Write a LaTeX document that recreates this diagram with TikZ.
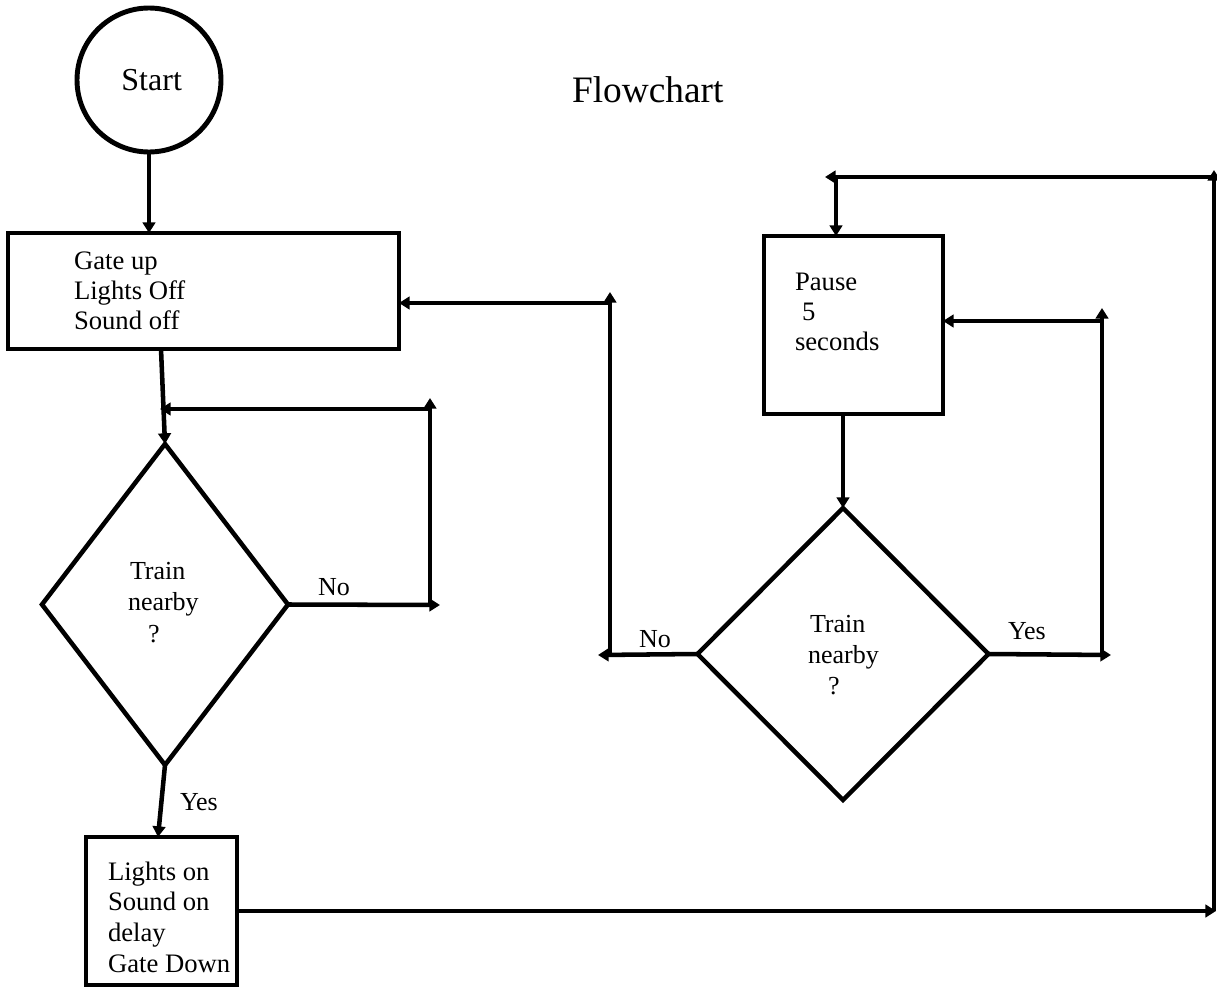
\documentclass[tikz,border=0pt]{standalone}
\usepackage{fontspec}
\setmainfont{Liberation Serif}
\usetikzlibrary{shapes.geometric,arrows.meta}
\begin{document}
\begin{tikzpicture}[x=0.75pt,y=-0.75pt,
  every node/.style={inner sep=0pt,outer sep=0pt},
  shapeline/.style={draw,line width=3.4pt},
  arr/.style={line width=3.4pt,-{Triangle[length=8pt,width=9.5pt]}},
  txt/.style={font=\fontsize{20}{22.5}\selectfont,align=left,anchor=base west},
  lbl/.style={font=\fontsize{19.5}{22.5}\selectfont,anchor=base west}]
\useasboundingbox (0,0) rectangle (1217,988);

% shapes
\node[shapeline,circle,line width=3.7pt,minimum size=108pt,font=\fontsize{24}{28}\selectfont] (start) at (149,80) {\hspace*{4pt}Start};
\node[font=\fontsize{28}{32}\selectfont,anchor=base west] (title) at (572,103) {Flowchart};
\node[shapeline,rectangle,minimum width=293.25pt,minimum height=87pt] (r1) at (203.5,291) {};
\node[shapeline,diamond,minimum width=184.5pt,minimum height=240.75pt] (d1) at (165,604.5) {};
\node[shapeline,rectangle,minimum width=113.25pt,minimum height=111pt] (r2) at (161.5,911) {};
\node[shapeline,rectangle,minimum width=134.25pt,minimum height=133.5pt] (pause) at (853.5,325) {};
\node[shapeline,diamond,minimum width=218.25pt,minimum height=219pt] (d2) at (843,654) {};

% texts (anchor base = baseline of the last line)
\node[txt] (r1t) at (74,329) {Gate up\\Lights Off\\Sound off};
\node[txt,font=\fontsize{19.5}{23.5}\selectfont] (d1t) at (128,642) {\hspace*{1.5pt}Train\\nearby\\\hspace*{15pt}?};
\node[txt,font=\fontsize{20}{23}\selectfont] (r2t) at (108,972) {Lights on\\Sound on\\delay\\Gate Down};
\node[txt,font=\fontsize{20}{22.2}\selectfont] (pt) at (795,350) {Pause\\\hspace*{5.25pt}5\\seconds};
\node[txt,font=\fontsize{19.5}{23}\selectfont] (d2t) at (808,694) {\hspace*{1.5pt}Train\\nearby\\\hspace*{15pt}?};

% labels
\node[lbl] (no1) at (318,595) {No};
\node[lbl] (yes1) at (180,810) {Yes};
\node[lbl] (no2) at (639,647) {No};
\node[lbl] (yes2) at (1008,639) {Yes};

% coordinates
\coordinate (r1o) at (161,349);
\coordinate (nA) at (440,605);
\coordinate (nB) at (430,605);
\coordinate (nC) at (430,398);
\coordinate (nD) at (430,409);
\coordinate (j1) at (160,409);
\coordinate (r2i) at (158,837);
\coordinate (eA) at (1216,911);
\coordinate (eB) at (1214,911);
\coordinate (eC) at (1214,170);
\coordinate (eD) at (1214,177);
\coordinate (eE) at (825,177);
\coordinate (eF) at (836,177);
\coordinate (yA) at (1111,655);
\coordinate (yB) at (1102,655);
\coordinate (yC) at (1102,308);
\coordinate (yD) at (1102,321);
\coordinate (mA) at (598,655);
\coordinate (mB) at (610,655);
\coordinate (mC) at (610,292);
\coordinate (mD) at (610,303);

% connectors
\draw[arr] (start.south) -- (start.south |- r1.north);
\draw[arr] (r1o) -- (d1.north);
\draw[arr] (d1.east) -- (nA);
\draw[arr] (nB) -- (nC);
\draw[arr] (nD) -- (j1);
\draw[arr] (d1.south) -- (r2i);
\draw[arr] (r2.east) -- (eA);
\draw[arr] (eB) -- (eC);
\draw[arr] (eD) -- (eE);
\draw[arr] (eF) -- (eF |- pause.north);
\draw[arr] (pause.south -| d2.north) -- (d2.north);
\draw[arr] (d2.east) -- (yA);
\draw[arr] (yB) -- (yC);
\draw[arr] (yD) -- (yD -| pause.east);
\draw[arr] (d2.west) -- (mA);
\draw[arr] (mB) -- (mC);
\draw[arr] (mD) -- (mD -| r1.east);
\end{tikzpicture}
\end{document}
